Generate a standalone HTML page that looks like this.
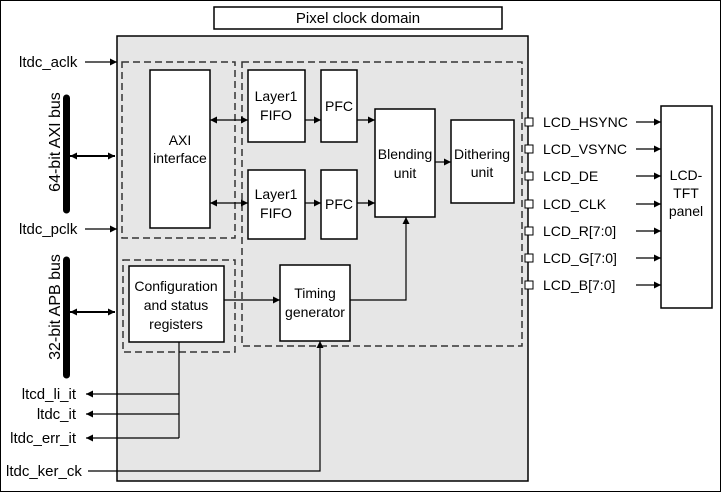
<!DOCTYPE html>
<html><head><style>
html,body{margin:0;padding:0;background:#fff}
svg{display:block}
text{font-family:"Liberation Sans",Arial,sans-serif;font-size:14px;fill:#000}
</style></head><body>
<svg width="721" height="492" viewBox="0 0 721 492" xmlns="http://www.w3.org/2000/svg">
<defs>
<marker id="a" viewBox="0 0 10 10" refX="10" refY="5" markerWidth="7" markerHeight="7" markerUnits="userSpaceOnUse" orient="auto-start-reverse"><path d="M0,0L10,5L0,10z" fill="#000"/></marker>
</defs>
<rect x="0.5" y="0.5" width="720" height="491" fill="#fff" stroke="#000"/>
<rect x="117" y="36" width="411" height="445" fill="#e6e6e6" stroke="#000" stroke-width="1.5"/>
<rect x="214" y="7" width="288" height="22" fill="#fff" stroke="#000" stroke-width="1.5"/>
<text x="358" y="23" text-anchor="middle" style="font-size:15px">Pixel clock domain</text>
<g fill="none" stroke="#333" stroke-width="1.5" stroke-dasharray="7,4">
<rect x="122" y="62" width="113" height="176"/>
<rect x="242" y="62" width="280" height="284"/>
<rect x="123" y="260" width="112" height="92"/>
</g>
<g fill="#fff" stroke="#000" stroke-width="1.5">
<rect x="150" y="70" width="60" height="158"/>
<rect x="248" y="70" width="57" height="72"/>
<rect x="321" y="70" width="36" height="72"/>
<rect x="248" y="170" width="57" height="69"/>
<rect x="321" y="170" width="36" height="69"/>
<rect x="375" y="109" width="60" height="108"/>
<rect x="451" y="120" width="63" height="83"/>
<rect x="129" y="266" width="95" height="76"/>
<rect x="280" y="265" width="70" height="76"/>
<rect x="661" y="106" width="51" height="202"/>
</g>
<text x="180" y="145" text-anchor="middle">AXI</text>
<text x="180" y="163" text-anchor="middle">interface</text>
<text x="276" y="101" text-anchor="middle">Layer1</text><text x="276" y="120" text-anchor="middle">FIFO</text>
<text x="276" y="199" text-anchor="middle">Layer1</text><text x="276" y="218" text-anchor="middle">FIFO</text>
<text x="339" y="111" text-anchor="middle">PFC</text>
<text x="339" y="209" text-anchor="middle">PFC</text>
<text x="405" y="159" text-anchor="middle">Blending</text><text x="405" y="178" text-anchor="middle">unit</text>
<text x="482" y="159" text-anchor="middle">Dithering</text><text x="482" y="177" text-anchor="middle">unit</text>
<text x="176" y="291" text-anchor="middle">Configuration</text>
<text x="176" y="310" text-anchor="middle">and status</text>
<text x="176" y="329" text-anchor="middle">registers</text>
<text x="315" y="298" text-anchor="middle">Timing</text><text x="315" y="317" text-anchor="middle">generator</text>
<text x="686" y="180" text-anchor="middle">LCD-</text><text x="686" y="198" text-anchor="middle">TFT</text><text x="686" y="216" text-anchor="middle">panel</text>
<g stroke="#000" stroke-width="1.2" fill="none">
<line x1="210" y1="120" x2="248" y2="120" marker-start="url(#a)" marker-end="url(#a)"/>
<line x1="210" y1="203" x2="248" y2="203" marker-start="url(#a)" marker-end="url(#a)"/>
<line x1="305" y1="120" x2="321" y2="120" marker-end="url(#a)"/>
<line x1="305" y1="203" x2="321" y2="203" marker-end="url(#a)"/>
<line x1="357" y1="120" x2="375" y2="120" marker-end="url(#a)"/>
<line x1="357" y1="203" x2="375" y2="203" marker-end="url(#a)"/>
<line x1="435" y1="162" x2="451" y2="162" marker-end="url(#a)"/>
<line x1="224" y1="300" x2="280" y2="300" marker-end="url(#a)"/>
<polyline points="350,300 406,300 406,217" marker-end="url(#a)"/>
<line x1="85" y1="62" x2="117" y2="62" marker-end="url(#a)"/>
<line x1="85" y1="229" x2="117" y2="229" marker-end="url(#a)"/>
<line x1="70" y1="156" x2="115" y2="156" stroke-width="2" marker-start="url(#a)" marker-end="url(#a)"/>
<line x1="70" y1="312" x2="115" y2="312" stroke-width="2" marker-start="url(#a)" marker-end="url(#a)"/>
<polyline points="179,342 179,438"/>
<line x1="179" y1="394" x2="86" y2="394" marker-end="url(#a)"/>
<line x1="179" y1="414" x2="86" y2="414" marker-end="url(#a)"/>
<line x1="179" y1="438" x2="86" y2="438" marker-end="url(#a)"/>
<polyline points="88,471 320,471 320,341" marker-end="url(#a)"/>
<line x1="636" y1="122" x2="661" y2="122" marker-end="url(#a)"/>
<line x1="636" y1="149" x2="661" y2="149" marker-end="url(#a)"/>
<line x1="636" y1="176" x2="661" y2="176" marker-end="url(#a)"/>
<line x1="636" y1="204" x2="661" y2="204" marker-end="url(#a)"/>
<line x1="636" y1="231" x2="661" y2="231" marker-end="url(#a)"/>
<line x1="636" y1="258" x2="661" y2="258" marker-end="url(#a)"/>
<line x1="636" y1="285" x2="661" y2="285" marker-end="url(#a)"/>
</g>
<line x1="66.5" y1="98" x2="66.5" y2="210" stroke="#000" stroke-width="7" stroke-linecap="round"/>
<line x1="66.5" y1="260" x2="66.5" y2="375" stroke="#000" stroke-width="7" stroke-linecap="round"/>
<text transform="translate(60,142) rotate(-90)" text-anchor="middle" style="font-size:16px">64-bit AXI bus</text>
<text transform="translate(60,307) rotate(-90)" text-anchor="middle" style="font-size:16px">32-bit APB bus</text>
<text x="19" y="67" style="font-size:15px">ltdc_aclk</text>
<text x="19" y="234" style="font-size:15px">ltdc_pclk</text>
<text x="76" y="399" text-anchor="end" style="font-size:15px">ltcd_li_it</text>
<text x="76" y="419" text-anchor="end" style="font-size:15px">ltdc_it</text>
<text x="76" y="443" text-anchor="end" style="font-size:15px">ltdc_err_it</text>
<text x="6" y="476" style="font-size:15px">ltdc_ker_ck</text>
<g fill="#fff" stroke="#000" stroke-width="1">
<rect x="525" y="118" width="8" height="8"/>
<rect x="525" y="145" width="8" height="8"/>
<rect x="525" y="172" width="8" height="8"/>
<rect x="525" y="200" width="8" height="8"/>
<rect x="525" y="227" width="8" height="8"/>
<rect x="525" y="254" width="8" height="8"/>
<rect x="525" y="281" width="8" height="8"/>
</g>
<g style="font-size:15px">
<text x="543" y="127">LCD_HSYNC</text>
<text x="543" y="154">LCD_VSYNC</text>
<text x="543" y="181">LCD_DE</text>
<text x="543" y="209">LCD_CLK</text>
<text x="543" y="236">LCD_R[7:0]</text>
<text x="543" y="263">LCD_G[7:0]</text>
<text x="543" y="290">LCD_B[7:0]</text>
</g>
</svg>
</body></html>
